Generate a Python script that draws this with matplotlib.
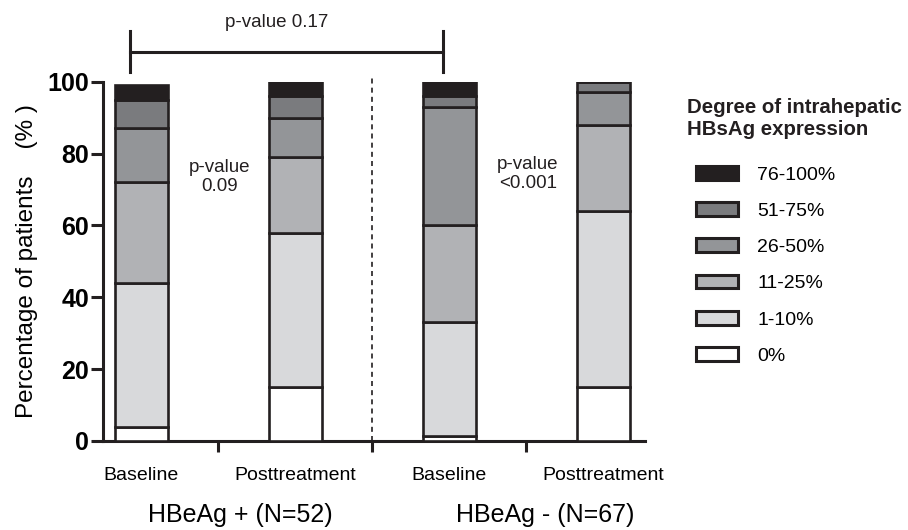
import matplotlib
matplotlib.use("Agg")
import matplotlib.pyplot as plt
from matplotlib.patches import Patch
import numpy as np

plt.rcParams['font.family'] = ['Liberation Sans', 'DejaVu Sans']

# data (percent of patients per bar)
bar_labels = ['Baseline', 'Posttreatment', 'Baseline', 'Posttreatment']
group_labels = ['HBeAg + (N=52)', 'HBeAg - (N=67)']
levels = ['0%', '1-10%', '11-25%', '26-50%', '51-75%', '76-100%']
pct_0 = [4, 15, 1.5, 15]
pct_1_10 = [40, 43, 31.5, 49]
pct_11_25 = [28, 21, 27, 24]
pct_26_50 = [15, 11, 33, 9]
pct_51_75 = [8, 6, 3, 3]
pct_76_100 = [4, 4, 4, 0]
pvals = ['p-value\n0.09', 'p-value\n<0.001']
p_between = 'p-value 0.17'

colors = ['#ffffff', '#d8d9db', '#b1b2b5', '#939598', '#7a7b7e', '#231f20']
edge = '#231f20'

fig = plt.figure(figsize=(9.08, 5.30), dpi=100)
ax = fig.add_axes([103/908, 89/530, 542/908, 359.3/530])

x = np.arange(1, 5)
stack = [pct_0, pct_1_10, pct_11_25, pct_26_50, pct_51_75, pct_76_100]
bottom = np.zeros(4)
for vals, col in zip(stack, colors):
    vals = np.array(vals, dtype=float)
    ax.bar(x, vals, bottom=bottom, width=0.345, color=col, edgecolor=edge,
           linewidth=1.9, zorder=3)
    bottom += vals

ax.set_xlim(0.75, 4.27)
ax.set_ylim(0, 100)
ax.spines['top'].set_visible(False)
ax.spines['right'].set_visible(False)
for s in ['left', 'bottom']:
    ax.spines[s].set_linewidth(2.2)
    ax.spines[s].set_color(edge)

ax.set_yticks([0, 20, 40, 60, 80, 100])
ax.tick_params(axis='y', length=9, width=2.2, color=edge, pad=1, labelsize=18)
for t in ax.get_yticklabels():
    t.set_fontweight('bold')

ax.set_xticks([1.5, 2.5, 3.5])
ax.set_xticklabels([])
ax.tick_params(axis='x', which='major', length=8, width=2.2, color=edge)
ax.set_xticks(x, minor=True)
ax.set_xticklabels(bar_labels, minor=True, fontsize=14)
ax.tick_params(axis='x', which='minor', length=0, pad=19)

ax.set_ylabel('Percentage of patients    (% )', fontsize=17.5, labelpad=7)

# group labels under the bars
for gx, g in zip([1.64, 3.62], group_labels):
    ax.text(gx, -0.205, g, transform=ax.get_xaxis_transform(), ha='center',
            va='center', fontsize=18)

# dashed separator between the two groups
ax.plot([2.5, 2.5], [0, 102], ls=(0, (3, 2.5)), lw=1.2, color=edge,
        clip_on=False, zorder=2)

# within-group p-values
ax.text(1.51, 73.5, pvals[0], ha='center', va='center', fontsize=13.5,
        linespacing=1.15, color=edge)
ax.text(3.51, 74.3, pvals[1], ha='center', va='center', fontsize=13.5,
        linespacing=1.15, color=edge)

# between-group bracket
ax.plot([0.925, 2.958], [108.3, 108.3], lw=2.2, color=edge, clip_on=False)
for bx in [0.925, 2.958]:
    ax.plot([bx, bx], [102.6, 114.2], lw=2.2, color=edge, clip_on=False)
ax.text(1.88, 116.5, p_between, ha='center', va='center', fontsize=13.5,
        color=edge)

# legend
fig.text(687/908, 1 - 98/530, 'Degree of intrahepatic\nHBsAg expression',
         ha='left', va='top', fontsize=14.7, fontweight='bold',
         linespacing=1.2, color=edge)
handles = [Patch(facecolor=c, edgecolor=edge, linewidth=2.2) for c in colors]
fig.legend(handles[::-1], levels[::-1], loc='upper left',
           bbox_to_anchor=(696/908, 1 - 166/530), frameon=False,
           fontsize=14, handlelength=2.16, handleheight=0.72,
           handletextpad=0.98, labelspacing=0.95, borderpad=0,
           borderaxespad=0)

fig.savefig('out.png', dpi=100)
